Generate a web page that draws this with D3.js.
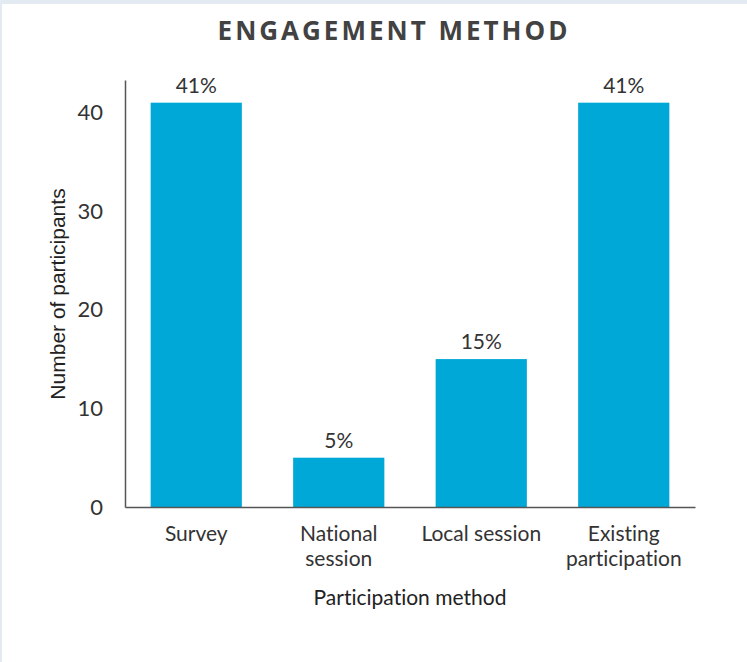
<!DOCTYPE html>
<html>
<head>
<meta charset="utf-8">
<script src="https://cdn.jsdelivr.net/npm/d3@7"></script>
<style>
  html, body { margin: 0; padding: 0; background: #fff; }
  svg { display: block; }
  text { font-variant-ligatures: none; font-feature-settings: "liga" 0, "clig" 0, "dlig" 0; }
</style>
</head>
<body>
<svg id="chart" width="747" height="662"></svg>
<script>
const categories = [["Survey"], ["National", "session"], ["Local session"], ["Existing", "participation"]];
const categoryKeys = ["Survey", "National session", "Local session", "Existing participation"];
const values = [41, 5, 15, 41];
const valueLabels = ["41%", "5%", "15%", "41%"];
const yTicks = [0, 10, 20, 30, 40];
const title = "ENGAGEMENT METHOD";
const xTitle = "Participation method";
const yTitle = "Number of participants";

const svg = d3.select("#chart");
const W = 747, H = 662;

// frame
svg.append("rect").attr("x", 0).attr("y", 0).attr("width", W).attr("height", H).attr("fill", "#e4eaf2");
svg.append("rect").attr("x", 2).attr("y", 4).attr("width", W - 2).attr("height", H - 4).attr("fill", "#ffffff");

const mLeft = 125, mRight = 695, mTop = 80, mBottom = 507;

const x = d3.scaleBand().domain(categoryKeys).range([mLeft, mRight]).paddingInner(0.36).paddingOuter(0.18);
const y = d3.scaleLinear().domain([0, 43.3]).range([mBottom, mTop]);

// title
svg.append("text")
  .attr("x", 394).attr("y", 40)
  .attr("text-anchor", "middle")
  .attr("font-family", "'Open Sans', sans-serif")
  .attr("font-weight", 700)
  .attr("font-size", 26)
  .attr("letter-spacing", 3)
  .attr("fill", "#424242")
  .text(title);

// bars
svg.append("g").selectAll("rect").data(values).join("rect")
  .attr("x", (d, i) => x(categoryKeys[i]))
  .attr("width", x.bandwidth())
  .attr("y", d => y(d))
  .attr("height", d => y(0) - y(d))
  .attr("fill", "#00a8d8");

// value labels
svg.append("g").selectAll("text").data(values).join("text")
  .attr("x", (d, i) => x(categoryKeys[i]) + x.bandwidth() / 2)
  .attr("y", d => y(d) - 10)
  .attr("text-anchor", "middle")
  .attr("font-family", "Lato, sans-serif")
  .attr("font-size", 21)
  .attr("fill", "#333")
  .text((d, i) => valueLabels[i]);

// y axis
const yAxis = d3.axisLeft(y).tickValues(yTicks).tickSize(0).tickPadding(22);
const gy = svg.append("g").attr("transform", `translate(${mLeft},0)`).call(yAxis);
gy.select(".domain").attr("stroke", "#555").attr("stroke-width", 1.5);
gy.selectAll("text").attr("font-family", "Lato, sans-serif").attr("font-size", 22).attr("fill", "#333");

// x axis
const xAxis = d3.axisBottom(x).tickSize(0).tickFormat(() => "");
const gx = svg.append("g").attr("transform", `translate(0,${mBottom})`).call(xAxis);
gx.select(".domain").attr("stroke", "#555").attr("stroke-width", 1.5);
gx.selectAll(".tick").each(function(d, i) {
  const t = d3.select(this).append("text")
    .attr("text-anchor", "middle")
    .attr("font-family", "Lato, sans-serif")
    .attr("font-size", 21)
    .attr("fill", "#333");
  categories[i].forEach((line, j) => {
    t.append("tspan").attr("x", 0).attr("y", 34 + j * 25).text(line);
  });
});

// axis titles
svg.append("text")
  .attr("x", 410).attr("y", 605)
  .attr("text-anchor", "middle")
  .attr("font-family", "Lato, sans-serif")
  .attr("font-size", 21)
  .attr("fill", "#222")
  .text(xTitle);

svg.append("text")
  .attr("transform", "translate(64.5,294) rotate(-90)")
  .attr("text-anchor", "middle")
  .attr("font-family", "'Liberation Sans', Arial, sans-serif")
  .attr("font-size", 21)
  .attr("fill", "#222")
  .text(yTitle);
</script>
</body>
</html>
